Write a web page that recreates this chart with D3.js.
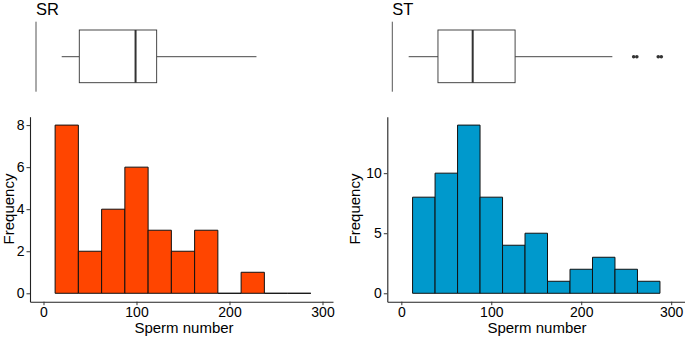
<!DOCTYPE html>
<html><head><meta charset="utf-8">
<script src="https://cdn.jsdelivr.net/npm/d3@7"></script>
<style>body{margin:0;background:#fff}svg{display:block;font-family:"Liberation Sans",Arial,sans-serif}</style>
</head><body>
<svg id="c" width="685" height="338"></svg>
<script>
// Data
const binEdges = [12.5,37.5,62.5,87.5,112.5,137.5,162.5,187.5,212.5,237.5,262.5,287.5];
const srCounts = [8,2,4,6,3,2,3,0,1,0,0];
const stCounts = [8,10,14,8,4,5,1,2,3,2,1];
const srBox = {min:19.6, q1:38.5, med:99, q3:121.7, max:229, out:[]};
const stBox = {min:14, q1:45.7, med:83.3, q3:129.2, max:234.5, out:[257.6,261.0,284.2,287.5]};
const xTicks = [0,100,200,300];
const srYTicks = [0,2,4,6,8];
const stYTicks = [0,5,10];

const svg = d3.select("#c");

function panel(cfg){
  const g = svg.append("g");
  const x = d3.scaleLinear().domain(cfg.xDomain).range(cfg.xRange);
  const y = d3.scaleLinear().domain(cfg.yDomain).range([301.7,116.7]);
  const bx = d3.scaleLinear().domain(cfg.bxDomain).range(cfg.bxRange);
  const bins = cfg.counts.map((c,i)=>({x0:binEdges[i],x1:binEdges[i+1],c}));
  // bars (paths so zero-height bins still show as a baseline)
  g.selectAll("path.bar").data(bins).join("path")
    .attr("d",d=>`M${x(d.x0)},${y(0)}V${y(d.c)}H${x(d.x1)}V${y(0)}Z`)
    .attr("fill",cfg.fill).attr("stroke","#111").attr("stroke-width",1);
  // axes
  const xa = g.append("g").attr("transform",`translate(0,${cfg.axisY})`)
    .call(d3.axisBottom(x).tickValues(xTicks).tickSize(3.5).tickPadding(2).tickSizeOuter(0));
  const ya = g.append("g").attr("transform",`translate(${cfg.xRange[0]},0)`)
    .call(d3.axisLeft(y).tickValues(cfg.yTicks).tickSize(3.5).tickPadding(2).tickSizeOuter(0));
  [xa,ya].forEach(a=>{
    a.select(".domain").attr("stroke","#222").attr("stroke-width",1.1);
    a.selectAll(".tick line").attr("stroke","#333");
    a.selectAll("text").attr("fill","#000").style("font-size","14px").style("font-family","'Liberation Sans',Arial,sans-serif");
  });
  // axis titles
  g.append("text").attr("x",cfg.xTitleX).attr("y",333).attr("text-anchor","middle")
    .style("font-size","15px").text("Sperm number");
  g.append("text").attr("transform",`translate(${cfg.yTitleX},209) rotate(-90)`).attr("text-anchor","middle")
    .style("font-size","15px").text("Frequency");
  // boxplot
  const b = cfg.box, yc = 56.7, yt = 30, yb = 82.7;
  g.append("line").attr("x1",cfg.bAxisX).attr("x2",cfg.bAxisX).attr("y1",21.7).attr("y2",91.7)
    .attr("stroke","#555").attr("stroke-width",1);
  g.append("line").attr("x1",bx(b.min)).attr("x2",bx(b.q1)).attr("y1",yc).attr("y2",yc).attr("stroke","#333").attr("stroke-width",0.9);
  g.append("line").attr("x1",bx(b.q3)).attr("x2",bx(b.max)).attr("y1",yc).attr("y2",yc).attr("stroke","#333").attr("stroke-width",0.9);
  g.append("rect").attr("x",bx(b.q1)).attr("y",yt).attr("width",bx(b.q3)-bx(b.q1)).attr("height",yb-yt)
    .attr("fill","#fff").attr("stroke","#333").attr("stroke-width",0.9);
  g.append("line").attr("x1",bx(b.med)).attr("x2",bx(b.med)).attr("y1",yt).attr("y2",yb).attr("stroke","#333").attr("stroke-width",2);
  g.selectAll("circle.out").data(b.out).join("circle").attr("cx",d=>bx(d)).attr("cy",yc).attr("r",1.8).attr("fill","#333");
  // title
  g.append("text").attr("x",cfg.bAxisX).attr("y",15).style("font-size","16.5px").text(cfg.title);
}

panel({title:"SR", counts:srCounts, fill:"#FF4500", yTicks:srYTicks,
  xDomain:[-14.5,311.3], xRange:[30,333], yDomain:[-0.4,8.4], axisY:301.7,
  bxDomain:[-14.5,311.3], bxRange:[30,333], bAxisX:36, box:srBox,
  xTitleX:184, yTitleX:14});
panel({title:"ST", counts:stCounts, fill:"#0099CC", yTicks:stYTicks,
  xDomain:[-15.6,315], xRange:[387.3,684.7], yDomain:[-0.7,14.7], axisY:301.7,
  bxDomain:[12.5,287.5], bxRange:[407.3,661.3], bAxisX:392.3, box:stBox,
  xTitleX:537, yTitleX:360});
</script>
</body></html>
